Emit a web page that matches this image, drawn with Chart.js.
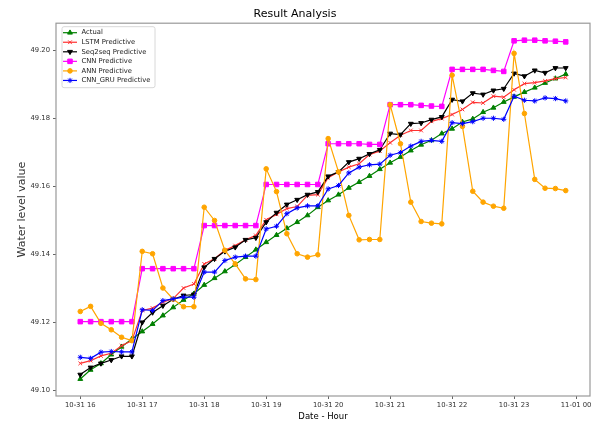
<!DOCTYPE html>
<html>
<head>
<meta charset="utf-8">
<script src="https://cdn.jsdelivr.net/npm/chart.js@4.4.0/dist/chart.umd.min.js"></script>
<style>
  html, body { margin: 0; padding: 0; background: #fff; }
  canvas { display: block; }
</style>
</head>
<body>
<canvas id="chart" width="603" height="423"></canvas>
<script>
// время: с 10-31 16:00 шагом 10 минут (в минутах от начала суток)
const startMinute = 16 * 60;
const stepMinutes = 10;
const hourTicks = ['10-31 16', '10-31 17', '10-31 18', '10-31 19', '10-31 20',
                   '10-31 21', '10-31 22', '10-31 23', '11-01 00'];
const yTicks = [49.10, 49.12, 49.14, 49.16, 49.18, 49.20];
const yMin = 49.0983;
const yMax = 49.2081;

// значения рядов
const actual = [49.1033, 49.1060, 49.1079, 49.1105, 49.1128, 49.1151, 49.1173, 49.1195, 49.1220, 49.1244,
                49.1266, 49.1284, 49.1310, 49.1330, 49.1350, 49.1370, 49.1392, 49.1414, 49.1436, 49.1457,
                49.1477, 49.1495, 49.1515, 49.1539, 49.1559, 49.1576, 49.1596, 49.1613, 49.1631, 49.1651,
                49.1670, 49.1687, 49.1706, 49.1723, 49.1736, 49.1756, 49.1770, 49.1790, 49.1799, 49.1819,
                49.1832, 49.1849, 49.1864, 49.1878, 49.1891, 49.1905, 49.1918, 49.1931];
const lstm = [49.1079, 49.1087, 49.1101, 49.1109, 49.1131, 49.1146, 49.1235, 49.1242, 49.1259, 49.1270,
              49.1301, 49.1313, 49.1372, 49.1387, 49.1412, 49.1426, 49.1443, 49.1456, 49.1502, 49.1518,
              49.1535, 49.1541, 49.1574, 49.1576, 49.1626, 49.1643, 49.1657, 49.1667, 49.1694, 49.1705,
              49.1729, 49.1751, 49.1765, 49.1765, 49.1792, 49.1800, 49.1812, 49.1827, 49.1848, 49.1846,
              49.1866, 49.1863, 49.1885, 49.1903, 49.1906, 49.1911, 49.1918, 49.1921];
const seq2seq = [49.1046, 49.1067, 49.1079, 49.1089, 49.1100, 49.1100, 49.1200, 49.1229, 49.1249, 49.1268,
                 49.1279, 49.1282, 49.1362, 49.1387, 49.1409, 49.1421, 49.1443, 49.1449, 49.1495, 49.1523,
                 49.1547, 49.1561, 49.1576, 49.1584, 49.1630, 49.1643, 49.1672, 49.1682, 49.1696, 49.1708,
                 49.1756, 49.1753, 49.1785, 49.1787, 49.1797, 49.1805, 49.1856, 49.1851, 49.1875, 49.1871,
                 49.1883, 49.1888, 49.1933, 49.1925, 49.1942, 49.1935, 49.1949, 49.1949];
const cnn = [49.1202, 49.1202, 49.1202, 49.1202, 49.1202, 49.1202, 49.1358, 49.1358, 49.1358, 49.1358,
             49.1358, 49.1358, 49.1485, 49.1485, 49.1485, 49.1485, 49.1485, 49.1485, 49.1606, 49.1606,
             49.1606, 49.1606, 49.1606, 49.1606, 49.1726, 49.1726, 49.1726, 49.1726, 49.1724, 49.1724,
             49.1841, 49.1841, 49.1841, 49.1839, 49.1837, 49.1836, 49.1945, 49.1945, 49.1945, 49.1945,
             49.1942, 49.1939, 49.2029, 49.2031, 49.2031, 49.2029, 49.2028, 49.2026];
const ann = [49.1232, 49.1247, 49.1197, 49.1178, 49.1156, 49.1146, 49.1409, 49.1402, 49.1301, 49.1268,
             49.1246, 49.1246, 49.1539, 49.1500, 49.1412, 49.1372, 49.1328, 49.1326, 49.1652, 49.1585,
             49.1461, 49.1402, 49.1392, 49.1399, 49.1741, 49.1643, 49.1515, 49.1443, 49.1444, 49.1444,
             49.1841, 49.1726, 49.1554, 49.1497, 49.1492, 49.1490, 49.1928, 49.1777, 49.1586, 49.1554,
             49.1542, 49.1536, 49.1992, 49.1815, 49.1621, 49.1595, 49.1594, 49.1588];
const cnnGru = [49.1097, 49.1094, 49.1112, 49.1114, 49.1113, 49.1113, 49.1237, 49.1235, 49.1264, 49.1269,
                49.1274, 49.1274, 49.1348, 49.1348, 49.1382, 49.1392, 49.1395, 49.1395, 49.1475, 49.1483,
                49.1520, 49.1537, 49.1543, 49.1543, 49.1593, 49.1603, 49.1640, 49.1657, 49.1664, 49.1666,
                49.1692, 49.1700, 49.1719, 49.1733, 49.1736, 49.1733, 49.1788, 49.1785, 49.1791, 49.1801,
                49.1801, 49.1798, 49.1866, 49.1854, 49.1852, 49.1861, 49.1859, 49.1852];

const times = actual.map((_, i) => startMinute + i * stepMinutes);
const xPad = 23.5; // поля по краям оси X, как у matplotlib

Chart.defaults.font.family = '"DejaVu Sans", sans-serif';

function makeSeries(label, values, color, pointStyle, radius, rotation, order) {
    return {
        label: label,
        data: values.map((v, i) => ({ x: times[i], y: v })),
        borderColor: color,
        backgroundColor: color,
        pointBackgroundColor: color,
        pointBorderColor: color,
        borderWidth: 1.2,
        pointStyle: pointStyle,
        pointRadius: radius,
        pointRotation: rotation,
        pointBorderWidth: 1,
        tension: 0,
        order: order
    };
}

// рамка вокруг области графика
const framePlugin = {
    id: 'frame',
    afterDraw(chart) {
        const a = chart.chartArea;
        const ctx = chart.ctx;
        ctx.save();
        ctx.strokeStyle = '#999';
        ctx.lineWidth = 1.2;
        ctx.strokeRect(a.left, a.top, a.right - a.left, a.bottom - a.top);
        ctx.restore();
    }
};

// легенда в левом верхнем углу, как в matplotlib
const boxLegend = {
    id: 'boxLegend',
    afterDraw(chart) {
        const ctx = chart.ctx;
        const a = chart.chartArea;
        const x = a.left + 6, y = a.top + 3.5, w = 93, h = 61, rowH = 9.55;
        ctx.save();
        ctx.fillStyle = 'rgba(255,255,255,0.85)';
        ctx.strokeStyle = '#d8d8d8';
        ctx.lineWidth = 1;
        ctx.beginPath();
        ctx.roundRect(x, y, w, h, 2);
        ctx.fill();
        ctx.stroke();
        chart.data.datasets.forEach((ds, i) => {
            const cy = y + 6 + i * rowH;
            ctx.strokeStyle = ds.borderColor;
            ctx.lineWidth = ds.borderWidth;
            ctx.beginPath();
            ctx.moveTo(x + 1, cy);
            ctx.lineTo(x + 15, cy);
            ctx.stroke();
            ctx.fillStyle = ds.pointBackgroundColor;
            ctx.lineWidth = 1;
            Chart.helpers.drawPoint(ctx, {
                pointStyle: ds.pointStyle,
                radius: ds.pointRadius,
                rotation: ds.pointRotation,
                borderWidth: 1
            }, x + 8, cy);
            ctx.fillStyle = '#222';
            ctx.font = '6.8px "DejaVu Sans"';
            ctx.textBaseline = 'middle';
            ctx.textAlign = 'left';
            ctx.fillText(ds.label, x + 19.5, cy);
        });
        ctx.restore();
    }
};

const chart = new Chart(document.getElementById('chart'), {
    type: 'line',
    data: {
        datasets: [
            makeSeries('Actual', actual, '#008000', 'triangle', 2.8, 0, 6),
            makeSeries('LSTM Predictive', lstm, '#ff3030', 'crossRot', 2.6, 0, 5),
            makeSeries('Seq2seq Predictive', seq2seq, '#000000', 'triangle', 2.8, 180, 4),
            makeSeries('CNN Predictive', cnn, '#ff00ff', 'rect', 3.2, 0, 3),
            makeSeries('ANN Predictive', ann, '#ffa500', 'circle', 2.3, 0, 2),
            makeSeries('CNN_GRU Predictive', cnnGru, '#0000ff', 'star', 2.6, 0, 1)
        ]
    },
    options: {
        responsive: false,
        animation: false,
        devicePixelRatio: 1,
        layout: { padding: { left: 0, right: 13, top: 0, bottom: 0 } },
        plugins: {
            legend: { display: false },
            tooltip: { enabled: false },
            title: {
                display: true,
                text: 'Result Analysis',
                color: '#000',
                font: { size: 11, weight: 'normal' },
                padding: { top: 8, bottom: 2 }
            }
        },
        scales: {
            x: {
                type: 'linear',
                min: startMinute - xPad,
                max: times[times.length - 1] + xPad,
                afterBuildTicks: scale => {
                    scale.ticks = hourTicks.map((_, i) => ({ value: startMinute + i * 60 }));
                },
                afterFit: scale => { scale.height = 27; },
                grid: { drawOnChartArea: false, drawTicks: true, tickLength: 3, color: '#666' },
                border: { display: false },
                ticks: {
                    color: '#333',
                    font: { size: 6.8 },
                    padding: 2,
                    maxRotation: 0,
                    autoSkip: false,
                    callback: (value, index) => hourTicks[index]
                },
                title: {
                    display: true,
                    text: 'Date - Hour',
                    color: '#000',
                    font: { size: 8.5 },
                    padding: { top: 0, bottom: 1 }
                }
            },
            y: {
                min: yMin,
                max: yMax,
                afterBuildTicks: scale => {
                    scale.ticks = yTicks.map(v => ({ value: v }));
                },
                afterFit: scale => { scale.width = 56; },
                grid: { drawOnChartArea: false, drawTicks: true, tickLength: 3, color: '#666' },
                border: { display: false },
                ticks: {
                    color: '#333',
                    font: { size: 6.8 },
                    padding: 3,
                    callback: value => value.toFixed(2)
                },
                title: {
                    display: true,
                    text: 'Water level value',
                    color: '#333',
                    font: { size: 11 },
                    padding: { top: 16, bottom: 0 }
                }
            }
        }
    },
    plugins: [framePlugin, boxLegend]
});
</script>
</body>
</html>
